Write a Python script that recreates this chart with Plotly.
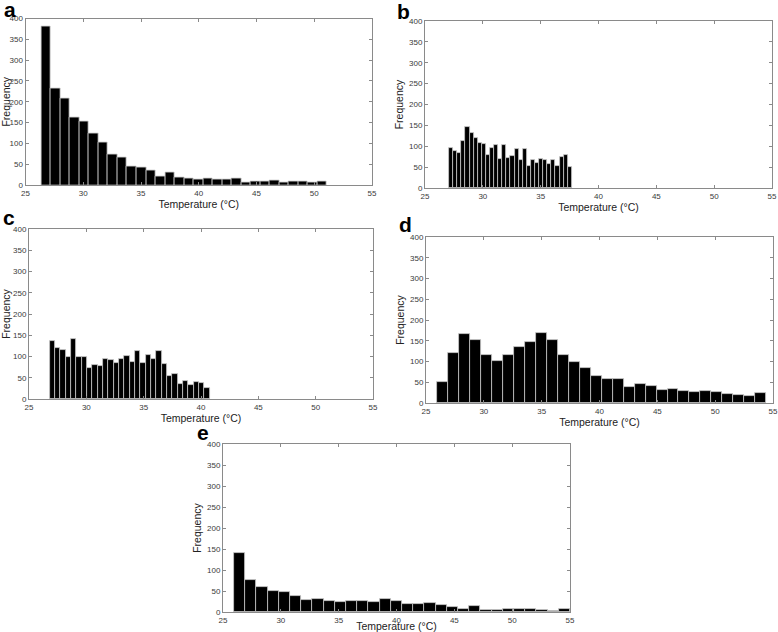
import numpy as np
import plotly.graph_objects as go

# ---- data ----
a_range = (26.38, 51.07)
a_counts = [380, 232, 209, 162, 153, 123, 102, 73, 66, 44, 41, 36, 21, 31, 19,
            16, 14, 15, 14, 13, 15, 7, 9, 9, 10, 6, 9, 8, 6, 8]

b_range = (27.08, 37.69)
b_counts = [97, 88, 83, 112, 145, 131, 120, 107, 106, 80, 97, 104, 70, 103, 73,
            76, 94, 67, 94, 53, 66, 59, 70, 66, 58, 66, 53, 74, 80, 51]

c_range = (26.80, 40.77)
c_counts = [136, 121, 116, 98, 141, 100, 98, 72, 80, 77, 95, 91, 84, 94, 102,
            87, 112, 84, 104, 95, 112, 82, 54, 59, 35, 43, 32, 39, 37, 27]

d_range = (25.95, 54.42)
d_counts = [51, 121, 167, 153, 115, 102, 116, 134, 147, 168, 151, 116, 99, 85, 66,
            58, 58, 38, 45, 40, 31, 34, 29, 27, 29, 27, 22, 20, 16, 24]

e_range = (25.95, 55.0)
e_counts = [140, 77, 60, 49, 47, 37, 29, 32, 27, 25, 26, 26, 25, 32, 26,
            19, 19, 22, 17, 11, 8, 15, 5, 5, 6, 8, 6, 4, 3, 7]

panel_labels = ["a", "b", "c", "d", "e"]
x_ticks = [25, 30, 35, 40, 45, 50, 55]
y_ticks = [0, 50, 100, 150, 200, 250, 300, 350, 400]
x_title = "Temperature (°C)"
y_title = "Frequency"

panels = [(a_range, a_counts), (b_range, b_counts), (c_range, c_counts),
          (d_range, d_counts), (e_range, e_counts)]

# ---- layout (pixel boxes of the plot areas) ----
W, H = 778, 632
boxes = [  # left, right, top, bottom in px
    (25.5, 372, 18.5, 185),
    (425, 772, 21, 188),
    (29, 373, 229, 399),
    (426, 773, 237, 403),
    (223, 570, 444, 612),
]
label_pos = [(2, -4), (395, -2), (1, 204), (397, 211), (195, 419)]

fig = go.Figure()
layout = dict(width=W, height=H, margin=dict(l=0, r=0, t=0, b=0),
              paper_bgcolor="white", plot_bgcolor="white", showlegend=False,
              bargap=0, annotations=[])

tick_font = dict(family="Liberation Sans, Arial, sans-serif", size=8, color="#3a3a3a")
title_font = dict(family="Liberation Sans, Arial, sans-serif", size=10.5, color="#222")

for i, ((lo, hi), counts) in enumerate(panels):
    n = len(counts)
    edges = np.linspace(lo, hi, n + 1)
    centers = (edges[:-1] + edges[1:]) / 2
    width = edges[1] - edges[0]
    sx = "" if i == 0 else str(i + 1)
    fig.add_trace(go.Bar(x=centers, y=counts, width=width,
                         marker=dict(color="black", line=dict(color="#c8c8c8", width=0.8)),
                         xaxis="x" + sx, yaxis="y" + sx))
    l, r, t, b = boxes[i]
    common = dict(showline=True, linecolor="#8a8a8a", linewidth=1, mirror="allticks",
                  ticks="inside", ticklen=3, tickcolor="#8a8a8a", showgrid=False,
                  zeroline=False, tickfont=tick_font, automargin=False)
    layout["xaxis" + sx] = dict(common, domain=[l / W, r / W], range=[25, 55],
                                tickvals=x_ticks, anchor="y" + sx,
                                title=dict(text=x_title, font=title_font, standoff=0))
    layout["yaxis" + sx] = dict(common, domain=[1 - b / H, 1 - t / H], range=[0, 400],
                                tickvals=y_ticks, anchor="x" + sx,
                                title=dict(text=y_title, font=title_font, standoff=3))
    lx, ly = label_pos[i]
    layout["annotations"].append(dict(
        text="<b>%s</b>" % panel_labels[i], x=lx / W, y=1 - ly / H,
        xref="paper", yref="paper", xanchor="left", yanchor="top", showarrow=False,
        font=dict(family="Liberation Sans, Arial, sans-serif", size=21, color="black")))

fig.update_layout(**layout)
fig.write_html("out.html", config={"displayModeBar": False},
               post_script="document.body.style.margin='0';"
                           "document.body.style.overflow='hidden';")
